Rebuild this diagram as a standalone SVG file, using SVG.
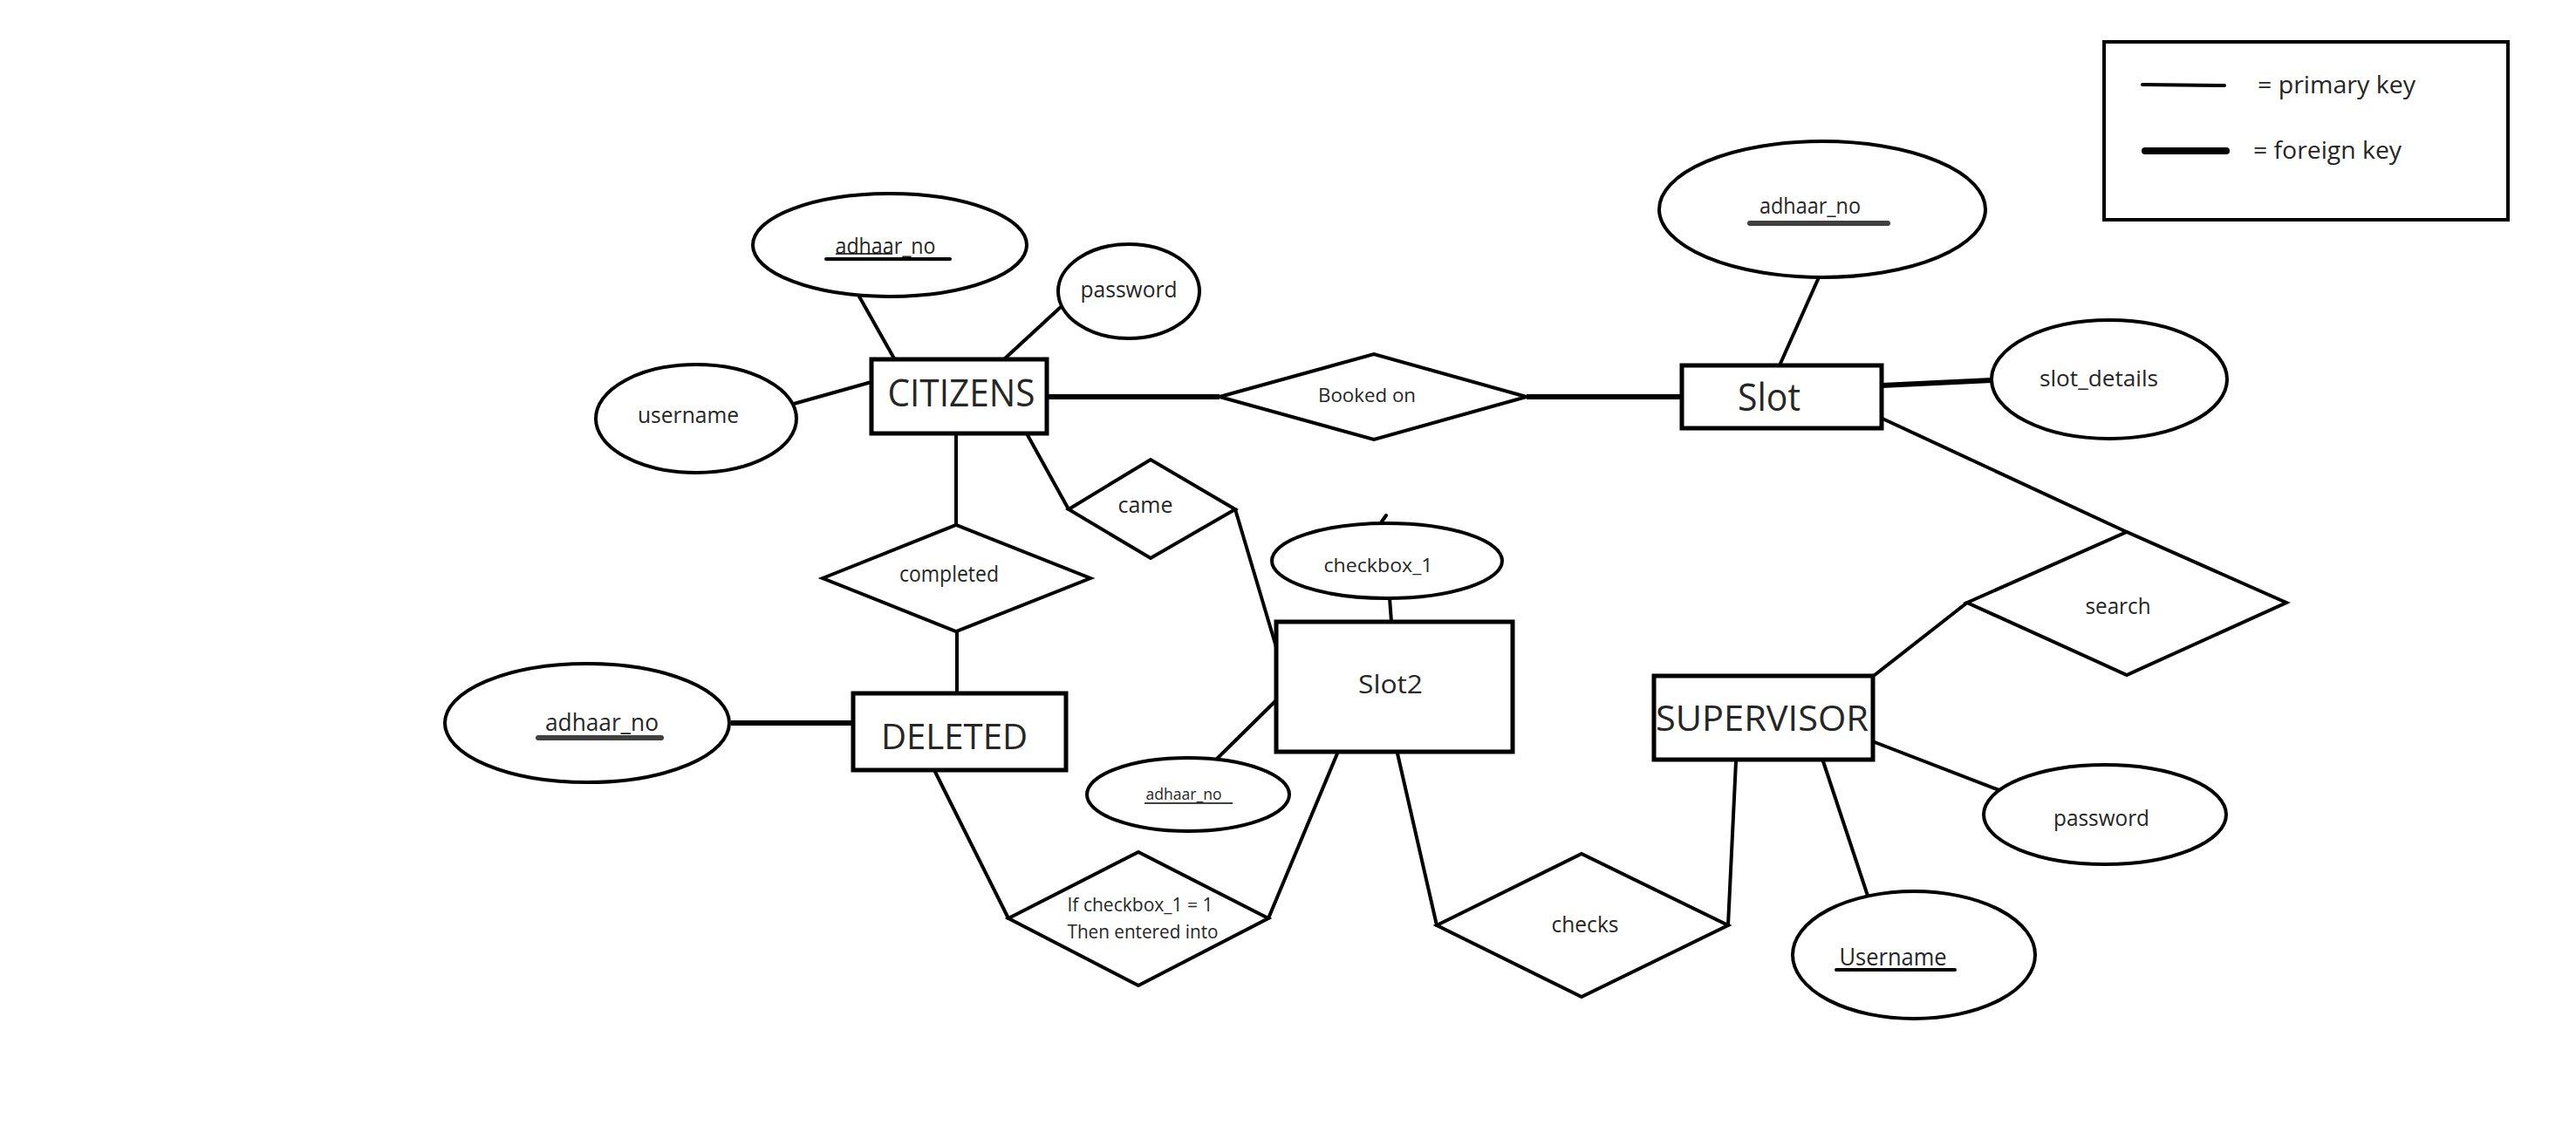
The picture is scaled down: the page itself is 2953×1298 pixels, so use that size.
<svg xmlns="http://www.w3.org/2000/svg" width="2953" height="1298" viewBox="0 0 2953 1298">
<style>
.shape{fill:#ffffff;stroke:#000000;stroke-width:4}
.ent{fill:#ffffff;stroke:#000000;stroke-width:5}
.ln{stroke:#000000;stroke-width:4;fill:none;stroke-linecap:round}
.thick{stroke:#000000;stroke-width:6;fill:none}
.t{font-family:"Open Sans","Noto Sans","Liberation Sans",sans-serif;fill:#262626;text-anchor:middle}
.s22{font-size:22px}.s26{font-size:26px}.s28{font-size:28px}.s18{font-size:18px}.s30{font-size:30px}.s40{font-size:40px}.s43{font-size:43px}
.ul{stroke:#000000;stroke-width:4;stroke-linecap:round}
.ulg{stroke:#404040;stroke-width:6;stroke-linecap:round}
</style>
<rect width="2953" height="1298" fill="#ffffff"/>
<g id="connectors">
<line class="ln" x1="985" y1="340" x2="1025" y2="411"/>
<line class="ln" x1="1216" y1="352" x2="1152" y2="411"/>
<line class="ln" x1="910" y1="463" x2="999" y2="438"/>
<line class="thick" x1="1201" y1="455" x2="1398" y2="455"/>
<line class="thick" x1="1750" y1="455" x2="1926" y2="455"/>
<line class="ln" x1="1096" y1="499" x2="1096" y2="602"/>
<line class="ln" x1="1178" y1="499" x2="1225" y2="584"/>
<line class="ln" x1="1416" y1="584" x2="1463" y2="742"/>
<line class="ln" x1="1097" y1="724" x2="1097" y2="795"/>
<line class="thick" x1="838" y1="829" x2="978" y2="829"/>
<line class="ln" x1="1071" y1="883" x2="1156" y2="1053"/>
<line class="ln" x1="1533" y1="864" x2="1454" y2="1053"/>
<line class="ln" x1="1394" y1="871" x2="1465" y2="801"/>
<line class="ln" x1="1593" y1="686" x2="1595" y2="713"/>
<line class="ln" x1="1584" y1="598" x2="1589" y2="591"/>
<line class="ln" x1="1602" y1="864" x2="1647" y2="1061"/>
<line class="ln" x1="1990" y1="873" x2="1981" y2="1061"/>
<line class="ln" x1="2149" y1="774" x2="2255" y2="691"/>
<line class="ln" x1="2158" y1="480" x2="2438" y2="610"/>
<line class="ln" x1="2149" y1="851" x2="2297" y2="908"/>
<line class="ln" x1="2088" y1="867" x2="2142" y2="1030"/>
<line class="ln" x1="2085" y1="318" x2="2040" y2="419"/>
<line class="thick" x1="2157" y1="442" x2="2283" y2="436"/>
</g>
<g id="citizens">
<rect class="ent" x="999" y="412" width="201" height="85"/>
<text class="t s43" x="1102" y="466" textLength="169" lengthAdjust="spacingAndGlyphs">CITIZENS</text>
</g>
<g id="citizens_adhaar_no">
<ellipse class="shape" cx="1020" cy="281" rx="157" ry="59"/>
<text class="t s26" x="1015" y="291" textLength="115" lengthAdjust="spacingAndGlyphs">adhaar_no</text>
<line stroke="#000" stroke-width="1.5" x1="958" y1="291" x2="1023" y2="291"/>
<line class="ul" x1="947" y1="297" x2="1089" y2="297"/>
</g>
<g id="citizens_password">
<ellipse class="shape" cx="1294" cy="334" rx="81" ry="54"/>
<text class="t s26" x="1294" y="341" textLength="111" lengthAdjust="spacingAndGlyphs">password</text>
</g>
<g id="citizens_username">
<ellipse class="shape" cx="798" cy="480" rx="115" ry="62"/>
<text class="t s26" x="789" y="485" textLength="116" lengthAdjust="spacingAndGlyphs">username</text>
</g>
<g id="booked_on">
<polygon class="shape" points="1398,455 1575,406 1750,455 1575,504"/>
<text class="t s22" x="1567" y="461" textLength="112" lengthAdjust="spacingAndGlyphs">Booked on</text>
</g>
<g id="slot">
<rect class="ent" x="1928" y="419" width="229" height="72"/>
<text class="t s43" x="2028" y="471" textLength="72" lengthAdjust="spacingAndGlyphs">Slot</text>
</g>
<g id="slot_adhaar_no">
<ellipse class="shape" cx="2089" cy="240" rx="187" ry="78"/>
<text class="t s26" x="2075" y="245" textLength="116" lengthAdjust="spacingAndGlyphs">adhaar_no</text>
<line class="ulg" x1="2006" y1="256" x2="2164" y2="256"/>
</g>
<g id="slot_details">
<ellipse class="shape" cx="2418" cy="435" rx="135" ry="68"/>
<text class="t s26" x="2406" y="443" textLength="136" lengthAdjust="spacingAndGlyphs">slot_details</text>
</g>
<g id="came">
<polygon class="shape" points="1225,584 1319,527 1416,584 1319,640"/>
<text class="t s26" x="1313" y="588" textLength="63" lengthAdjust="spacingAndGlyphs">came</text>
</g>
<g id="completed">
<polygon class="shape" points="943,663 1096,602 1250,663 1096,724"/>
<text class="t s26" x="1088" y="667" textLength="114" lengthAdjust="spacingAndGlyphs">completed</text>
</g>
<g id="deleted">
<rect class="ent" x="978" y="795" width="244" height="88"/>
<text class="t s40" x="1094" y="859" textLength="168" lengthAdjust="spacingAndGlyphs">DELETED</text>
</g>
<g id="deleted_adhaar_no">
<ellipse class="shape" cx="673" cy="829" rx="163" ry="68"/>
<text class="t s28" x="690" y="838" textLength="130" lengthAdjust="spacingAndGlyphs">adhaar_no</text>
<line class="ulg" x1="617" y1="846" x2="758" y2="846"/>
</g>
<g id="checkbox_1">
<ellipse class="shape" cx="1590" cy="643" rx="132" ry="43"/>
<text class="t s22" x="1580" y="656" textLength="125" lengthAdjust="spacingAndGlyphs">checkbox_1</text>
</g>
<g id="slot2">
<rect class="ent" x="1463" y="713" width="271" height="149"/>
<text class="t s30" x="1594" y="795" textLength="74" lengthAdjust="spacingAndGlyphs">Slot2</text>
</g>
<g id="slot2_adhaar_no">
<ellipse class="shape" cx="1362" cy="911" rx="116" ry="42"/>
<text class="t s18" x="1357" y="917" textLength="87" lengthAdjust="spacingAndGlyphs">adhaar_no</text>
<line stroke="#000" stroke-width="1.5" x1="1312" y1="921" x2="1413" y2="921"/>
</g>
<g id="if_checkbox">
<polygon class="shape" points="1156,1053 1305,977 1454,1053 1305,1130"/>
<text class="t s22" x="1307" y="1045" textLength="167" lengthAdjust="spacingAndGlyphs">If checkbox_1 = 1</text>
<text class="t s22" x="1310" y="1076" textLength="173" lengthAdjust="spacingAndGlyphs">Then entered into</text>
</g>
<g id="checks">
<polygon class="shape" points="1647,1061 1813,979 1981,1061 1813,1143"/>
<text class="t s26" x="1817" y="1069" textLength="77" lengthAdjust="spacingAndGlyphs">checks</text>
</g>
<g id="supervisor">
<rect class="ent" x="1896" y="775" width="251" height="96"/>
<text class="t s40" x="2020" y="838" textLength="244" lengthAdjust="spacingAndGlyphs">SUPERVISOR</text>
</g>
<g id="search">
<polygon class="shape" points="2255,691 2438,610 2621,691 2438,774"/>
<text class="t s26" x="2428" y="704" textLength="75" lengthAdjust="spacingAndGlyphs">search</text>
</g>
<g id="supervisor_password">
<ellipse class="shape" cx="2413" cy="934" rx="139" ry="57"/>
<text class="t s26" x="2409" y="947" textLength="110" lengthAdjust="spacingAndGlyphs">password</text>
</g>
<g id="supervisor_username">
<ellipse class="shape" cx="2194" cy="1095" rx="139" ry="73"/>
<text class="t s28" x="2170" y="1107" textLength="123" lengthAdjust="spacingAndGlyphs">Username</text>
<line class="ul" x1="2105" y1="1112" x2="2241" y2="1112"/>
</g>
<g id="legend">
<rect x="2412" y="48" width="463" height="204" fill="#ffffff" stroke="#000000" stroke-width="4"/>
<line stroke="#000" stroke-width="4" stroke-linecap="round" x1="2456" y1="97" x2="2550" y2="98"/>
<text class="t s28" style="text-anchor:start" x="2588" y="107" textLength="181" lengthAdjust="spacingAndGlyphs">= primary key</text>
<line stroke="#000" stroke-width="8" stroke-linecap="round" x1="2459" y1="173" x2="2552" y2="173"/>
<text class="t s28" style="text-anchor:start" x="2583" y="182" textLength="170" lengthAdjust="spacingAndGlyphs">= foreign key</text>
</g>
</svg>
